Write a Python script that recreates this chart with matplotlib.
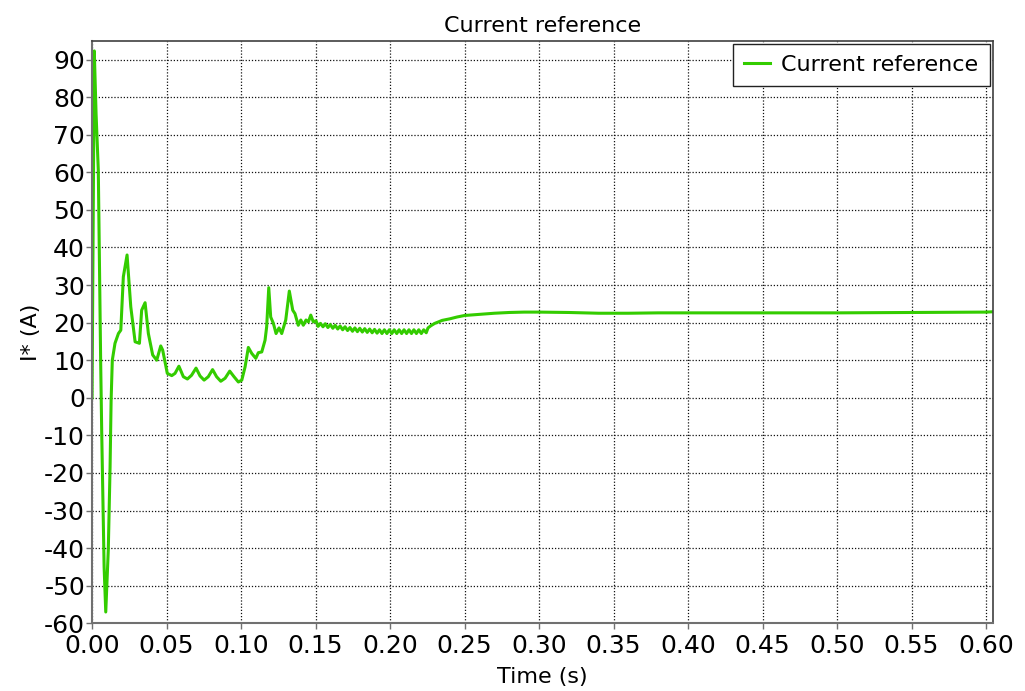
import matplotlib
matplotlib.use("Agg")
import matplotlib.pyplot as plt
import numpy as np

# Current reference trace: time (s) and current (A)
time_start = [0.0, 0.0015, 0.0027, 0.0042, 0.0058, 0.0065, 0.0081, 0.0092, 0.0109,
              0.0121, 0.0128, 0.0136, 0.0154, 0.0177, 0.0193, 0.0210, 0.0235, 0.0260,
              0.0289, 0.0318, 0.0333, 0.0356, 0.0378, 0.0407, 0.0434, 0.0461, 0.0474,
              0.0505, 0.0535, 0.0557, 0.0583, 0.0613, 0.0640, 0.0668, 0.0698, 0.0725,
              0.0752, 0.0780, 0.0809, 0.0836, 0.0864, 0.0893, 0.0924, 0.0953, 0.0982,
              0.1005, 0.1027, 0.1049, 0.1072, 0.1099, 0.1116, 0.1139, 0.1161, 0.1172,
              0.1186, 0.1199, 0.1217, 0.1235, 0.1255, 0.1273, 0.1300, 0.1324, 0.1347,
              0.1362, 0.1384, 0.1401, 0.1418, 0.1436, 0.1452, 0.1468, 0.1485, 0.1503]
current_start = [0.0, 92.3, 75.6, 60.5, 9.1, -9.4, -45.0, -57.0, -40.5,
                 -18.4, -0.6, 10.0, 14.5, 17.1, 18.0, 32.2, 38.0, 24.2,
                 14.9, 14.5, 23.3, 25.3, 17.1, 11.4, 10.0, 13.8, 12.7,
                 6.5, 5.9, 6.5, 8.4, 5.6, 5.0, 6.0, 7.9, 5.8,
                 4.7, 5.6, 7.5, 5.6, 4.4, 5.2, 7.1, 5.6, 4.2,
                 4.7, 8.2, 13.4, 11.8, 10.5, 12.0, 12.2, 15.3, 18.9,
                 29.3, 21.5, 19.8, 17.1, 18.6, 17.1, 20.7, 28.4, 23.3,
                 22.4, 19.3, 20.7, 19.3, 20.7, 20.2, 22.0, 20.2, 20.5]

# Ripple section before the step at ~0.225 s
time_ripple = [0.1517, 0.1533, 0.1550, 0.1566, 0.1583, 0.1599, 0.1616, 0.1632, 0.1649,
               0.1665, 0.1682, 0.1698, 0.1715, 0.1731, 0.1748, 0.1764, 0.1781, 0.1797,
               0.1814, 0.1830, 0.1847, 0.1863, 0.1880, 0.1896, 0.1913, 0.1929, 0.1946,
               0.1962, 0.1979, 0.1995, 0.2012, 0.2028, 0.2045, 0.2061, 0.2078, 0.2094,
               0.2111, 0.2127, 0.2144, 0.2160, 0.2177, 0.2193, 0.2210, 0.2226, 0.2243]
current_ripple = [19.0, 19.8, 18.9, 19.7, 18.7, 19.5, 18.5, 19.3, 18.3,
                  19.1, 18.1, 18.9, 17.9, 18.7, 17.7, 18.6, 17.6, 18.5,
                  17.5, 18.4, 17.4, 18.3, 17.3, 18.2, 17.2, 18.1, 17.1,
                  18.1, 17.1, 18.1, 17.1, 18.1, 17.1, 18.1, 17.1, 18.1,
                  17.1, 18.1, 17.1, 18.1, 17.1, 18.1, 17.1, 18.1, 17.3]

# Settling to steady state
time_end = [0.2255, 0.2275, 0.230, 0.235, 0.240, 0.245, 0.250, 0.260, 0.270, 0.280,
            0.290, 0.300, 0.320, 0.340, 0.360, 0.380, 0.400, 0.450, 0.500, 0.550,
            0.600, 0.605]
current_end = [18.6, 19.2, 19.8, 20.6, 21.0, 21.5, 21.9, 22.2, 22.5, 22.7,
               22.8, 22.8, 22.7, 22.5, 22.5, 22.6, 22.6, 22.6, 22.6, 22.7,
               22.8, 22.9]

x_ticks = [0.00, 0.05, 0.10, 0.15, 0.20, 0.25, 0.30, 0.35, 0.40, 0.45, 0.50, 0.55, 0.60]
y_ticks = list(range(-60, 91, 10))

t = np.array(time_start + time_ripple + time_end)
i_ref = np.array(current_start + current_ripple + current_end)

plt.rcParams['font.family'] = ['DejaVu Sans']
plt.rcParams['axes.unicode_minus'] = False

fig = plt.figure(figsize=(10.25, 6.91), dpi=100)
ax = fig.add_axes([0.0898, 0.098, 0.8790, 0.843])

ax.plot(t, i_ref, color='#33cc00', linewidth=2.2, label='Current reference',
        solid_joinstyle='round')

ax.set_xlim(0.0, 0.6047)
ax.set_ylim(-60, 95)
ax.set_xticks(x_ticks)
ax.set_xticklabels([f"{v:.2f}" for v in x_ticks])
ax.set_yticks(y_ticks)

ax.grid(True, which='major', color='#111111', linestyle=(0, (1, 1.5)), linewidth=0.9)
ax.set_axisbelow(True)

ax.tick_params(axis='both', direction='out', length=4, width=1, color='#707070',
               labelsize=18)
ax.tick_params(axis='x', pad=4)
ax.tick_params(axis='y', pad=1)

for side in ('left', 'bottom'):
    ax.spines[side].set_color('#707070')
    ax.spines[side].set_linewidth(1.5)
for side in ('top', 'right'):
    ax.spines[side].set_color('#404040')
    ax.spines[side].set_linewidth(1.2)

ax.set_title('Current reference', fontsize=16, pad=6)
ax.set_xlabel('Time (s)', fontsize=16, labelpad=6)
ax.set_ylabel('I* (A)', fontsize=16, labelpad=2)

leg = ax.legend(loc='upper right', fontsize=16, frameon=True, fancybox=False,
                framealpha=1, edgecolor='#222222', borderaxespad=0.15,
                handlelength=1.2, handletextpad=0.5, borderpad=0.5)
leg.get_frame().set_linewidth(1.0)

fig.savefig('out.png', dpi=100)
